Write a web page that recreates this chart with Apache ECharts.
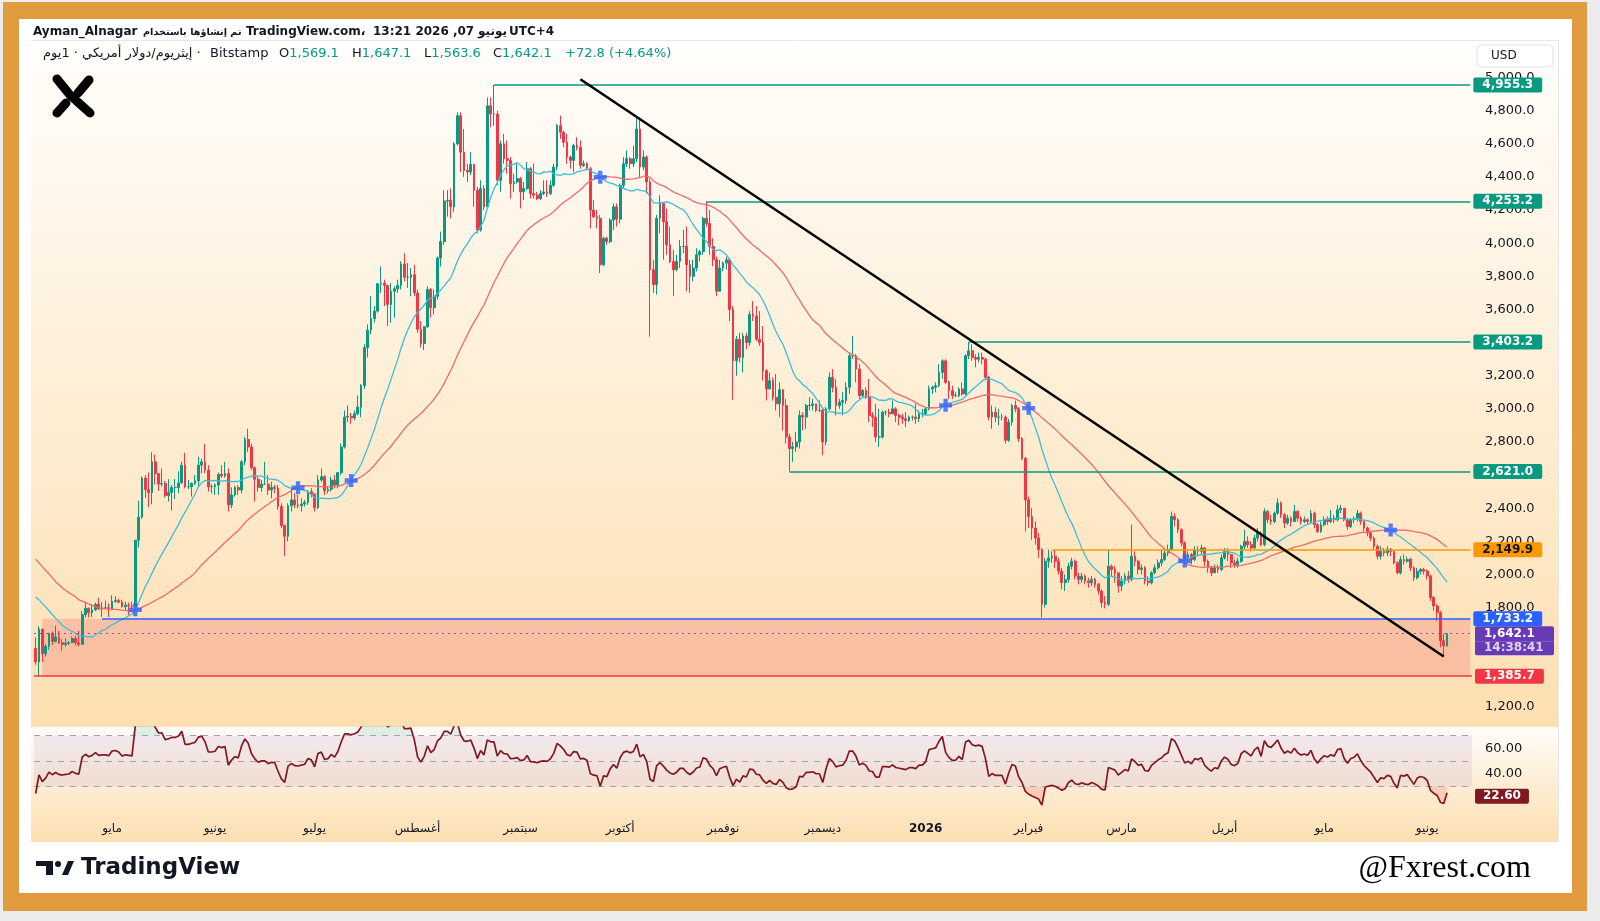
<!DOCTYPE html>
<html lang="ar">
<head>
  <meta charset="utf-8">
  <title>ETH/USD 1D | Bitstamp</title>
  <script type="text/javascript" src="https://cdn.jsdelivr.net/npm/echarts@6/dist/echarts.min.js"></script>
  <style type="text/css">
    * { margin: 0; padding: 0; }
    html, body, #chart { width: 100%; height: 100%; overflow: hidden; background: #ececec; }
  </style>
</head>
<body>
  <div id="chart"></div>
  <script type="text/javascript">
    // closes before the first visible candle (18 Feb - 7 Apr 2025), only to warm up the MAs and RSI
    var preClose = [
      2670, 2715, 2740, 2660, 2765, 2820, 2510, 2490, 2330, 2310, 2235,
      2215, 2520, 2150, 2170, 2240, 2210, 2140, 2200, 2020, 1865, 1920, 1910, 1865, 1910, 1935, 1885,
      1925, 1930, 2055, 1980, 1965, 1985, 2085, 2080, 2065, 2010, 2005, 1895, 1825, 1805, 1825,
      1905, 1795, 1815, 1815, 1805, 1580, 1553
    ];
    var firstOpen = 1553;

    // daily candles, 8 Apr 2025 -> 7 Jun 2026 (open = previous close)
    var close = [
      // apr 25
      1472, 1670, 1521, 1566, 1645, 1595, 1623, 1588, 1577, 1584, 1588, 1613, 1587, 1578, 1757, 1796, 1769, 1786, 1819, 1793, 1799, 1799, 1793,
      // may
      1838, 1842, 1833, 1805, 1815, 1812, 1809, 2207, 2346, 2582, 2513, 2494, 2680, 2609, 2546, 2550, 2477, 2495, 2525, 2525, 2552, 2660, 2530, 2530, 2550, 2565, 2660, 2680, 2630, 2530, 2530,
      // jun
      2540, 2605, 2595, 2610, 2420, 2480, 2525, 2510, 2680, 2815, 2770, 2645, 2575, 2525, 2545, 2545, 2510, 2525, 2520, 2410, 2295, 2230, 2415, 2450, 2420, 2415, 2425, 2435, 2500, 2485,
      // jul
      2405, 2570, 2590, 2505, 2515, 2570, 2540, 2615, 2770, 2950, 2955, 2945, 2970, 3010, 3140, 3370, 3475, 3545, 3590, 3755, 3760, 3745, 3630, 3710, 3725, 3745, 3875, 3795, 3795, 3810, 3700,
      // aug
      3480, 3395, 3495, 3720, 3610, 3680, 3910, 4010, 4255, 4260, 4220, 4600, 4770, 4550, 4440, 4430, 4475, 4320, 4080, 4330, 4220, 4830, 4780, 4780, 4380, 4600, 4510, 4500, 4360, 4370, 4390,
      // sep
      4310, 4330, 4450, 4300, 4290, 4270, 4300, 4310, 4300, 4350, 4460, 4710, 4670, 4610, 4520, 4500, 4590, 4580, 4470, 4480, 4450, 4200, 4160, 4150, 3870, 4030, 4010, 4140, 4220, 4145,
      // oct
      4350, 4480, 4510, 4480, 4510, 4690, 4460, 4520, 4370, 3840, 3750, 4150, 4240, 4130, 3990, 3890, 3840, 3890, 3980, 3980, 3870, 3800, 3850, 3930, 3950, 4150, 4120, 3980, 3900, 3710, 3850,
      // nov
      3880, 3900, 3600, 3290, 3420, 3310, 3440, 3400, 3570, 3560, 3420, 3400, 3230, 3120, 3170, 3070, 3030, 3115, 3020, 2830, 2760, 2770, 2800, 2960, 2950, 3020, 3020, 3030, 2990, 2990,
      // dec
      2800, 3000, 3190, 3130, 3020, 3040, 3050, 3130, 3320, 3320, 3240, 3080, 3110, 3070, 2960, 2950, 2830, 2830, 2980, 2980, 2970, 3000, 2960, 2950, 2940, 2930, 2950, 2950, 2940, 2970, 2970,
      // jan 26
      3000, 3120, 3130, 3140, 3220, 3290, 3160, 3110, 3080, 3080, 3120, 3090, 3320, 3350, 3310, 3300, 3310, 3300, 3190, 2950, 2980, 2950, 2950, 2950, 2810, 2920, 3020, 3000, 2820, 2700, 2450,
      // feb
      2350, 2280, 2220, 2150, 1820, 2080, 2100, 2110, 2080, 2020, 1950, 1970, 2050, 2080, 1990, 1970, 1990, 1960, 1950, 1970, 1940, 1900, 1830, 1820, 2050, 2030, 2010, 1930,
      // mar
      1960, 1990, 1970, 2110, 2080, 2030, 2040, 1960, 1950, 2010, 2040, 2070, 2090, 2130, 2150, 2350, 2330, 2270, 2190, 2100, 2120, 2090, 2150, 2140, 2160, 2080, 2040, 2010, 2040, 2030, 2100,
      // apr
      2140, 2120, 2070, 2060, 2080, 2170, 2200, 2180, 2160, 2220, 2250, 2180, 2380, 2330, 2320, 2370, 2430, 2360, 2310, 2340, 2320, 2380, 2340, 2320, 2330, 2320, 2370, 2300, 2260, 2300,
      // may
      2330, 2320, 2340, 2330, 2390, 2400, 2330, 2290, 2330, 2340, 2370, 2320, 2280, 2250, 2220, 2170, 2110, 2140, 2130, 2150, 2140, 2070, 2010, 2090, 2080, 2090, 2040, 1980, 2020, 2030, 2020,
      // jun
      1990, 1860, 1810, 1770, 1600, 1569.1, 1642.1
    ];
    var high = [
      1620, 1687, 1670, 1578, 1646, 1655, 1691, 1660, 1610, 1615, 1598, 1626, 1630, 1660, 1780, 1829, 1800, 1820, 1830, 1859, 1833, 1842, 1825,
      1874, 1868, 1853, 1846, 1835, 1830, 1836, 2207, 2445, 2591, 2600, 2616, 2738, 2724, 2613, 2640, 2565, 2575, 2540, 2576, 2622, 2680, 2735, 2570, 2555, 2600, 2710, 2700, 2788, 2660, 2545,
      2550, 2615, 2660, 2680, 2640, 2525, 2535, 2540, 2690, 2830, 2880, 2790, 2650, 2590, 2570, 2680, 2600, 2560, 2540, 2540, 2430, 2300, 2430, 2520, 2490, 2480, 2460, 2450, 2510, 2520,
      2490, 2600, 2640, 2600, 2530, 2590, 2600, 2620, 2790, 2990, 3020, 2975, 2990, 3080, 3150, 3390, 3510, 3680, 3620, 3760, 3860, 3780, 3750, 3760, 3740, 3780, 3890, 3940, 3880, 3850, 3870,
      3720, 3530, 3500, 3740, 3730, 3720, 3920, 4070, 4320, 4320, 4330, 4610, 4790, 4790, 4690, 4480, 4550, 4480, 4340, 4380, 4350, 4880, 4880, 4955, 4800, 4620, 4660, 4620, 4520, 4420, 4480,
      4400, 4370, 4490, 4460, 4480, 4310, 4320, 4380, 4380, 4380, 4480, 4720, 4770, 4680, 4660, 4530, 4600, 4640, 4620, 4500, 4490, 4460, 4260, 4200, 4170, 4040, 4040, 4150, 4240, 4240,
      4360, 4520, 4560, 4520, 4590, 4755, 4750, 4560, 4530, 4390, 3900, 4170, 4290, 4220, 4210, 4100, 3960, 3930, 4020, 4080, 4100, 3900, 3900, 3970, 3960, 4160, 4253, 4200, 4030, 3920, 3900,
      3890, 3920, 3910, 3620, 3440, 3460, 3460, 3460, 3590, 3650, 3620, 3590, 3500, 3240, 3220, 3190, 3210, 3160, 3120, 3060, 2850, 2800, 2860, 2990, 2980, 3030, 3070, 3060, 3030, 3050,
      3000, 3010, 3220, 3240, 3180, 3060, 3100, 3160, 3340, 3440, 3330, 3270, 3120, 3130, 3180, 2980, 3030, 3000, 2990, 2990, 3000, 3050, 3010, 2970, 2970, 2980, 2960, 2960, 3030, 2990, 3000,
      3010, 3140, 3140, 3160, 3270, 3300, 3300, 3170, 3140, 3100, 3130, 3160, 3330, 3403, 3390, 3330, 3340, 3340, 3310, 3200, 3020, 3010, 3000, 2970, 2960, 2940, 3030, 3050, 3010, 2830, 2710,
      2470, 2400, 2320, 2250, 2160, 2100, 2150, 2140, 2150, 2100, 2040, 2000, 2070, 2100, 2090, 2010, 2010, 2000, 1980, 1990, 1980, 1950, 1910, 1870, 2148, 2060, 2050, 2010,
      1990, 2010, 2020, 2300, 2140, 2090, 2060, 2050, 1990, 2020, 2060, 2090, 2150, 2160, 2180, 2380, 2370, 2340, 2280, 2200, 2140, 2130, 2170, 2170, 2180, 2165, 2090, 2050, 2060, 2060, 2120,
      2160, 2160, 2110, 2090, 2100, 2180, 2270, 2230, 2200, 2240, 2280, 2260, 2400, 2390, 2360, 2380, 2460, 2440, 2370, 2360, 2350, 2420, 2390, 2350, 2350, 2340, 2390, 2380, 2310, 2320,
      2350, 2350, 2390, 2360, 2420, 2420, 2400, 2340, 2340, 2350, 2390, 2380, 2330, 2290, 2260, 2230, 2180, 2170, 2160, 2170, 2160, 2140, 2080, 2110, 2120, 2110, 2100, 2050, 2040, 2040, 2040,
      2030, 2000, 1870, 1820, 1780, 1640, 1647.1
    ];
    var low = [
      1454, 1385, 1471, 1505, 1545, 1575, 1590, 1580, 1538, 1564, 1575, 1585, 1570, 1566, 1577, 1740, 1740, 1743, 1781, 1785, 1744, 1790, 1743,
      1790, 1826, 1826, 1800, 1784, 1755, 1792, 1810, 2163, 2337, 2461, 2407, 2424, 2543, 2505, 2532, 2465, 2440, 2386, 2455, 2491, 2550, 2520, 2515, 2470, 2540, 2530, 2610, 2612, 2500, 2490,
      2480, 2480, 2584, 2585, 2380, 2400, 2470, 2480, 2490, 2660, 2740, 2630, 2440, 2500, 2500, 2540, 2480, 2460, 2490, 2390, 2280, 2111, 2200, 2380, 2400, 2400, 2380, 2410, 2420, 2465,
      2380, 2395, 2560, 2480, 2490, 2500, 2520, 2520, 2600, 2760, 2920, 2910, 2930, 2960, 2950, 3120, 3310, 3450, 3520, 3580, 3700, 3620, 3500, 3520, 3550, 3700, 3720, 3770, 3730, 3680, 3680,
      3460, 3370, 3355, 3490, 3550, 3570, 3660, 3860, 3990, 4160, 4150, 4190, 4590, 4430, 4400, 4370, 4410, 4220, 4060, 4070, 4200, 4210, 4700, 4710, 4350, 4310, 4480, 4420, 4270, 4310, 4360,
      4210, 4260, 4320, 4270, 4270, 4260, 4260, 4290, 4280, 4290, 4340, 4440, 4630, 4580, 4480, 4450, 4430, 4560, 4450, 4460, 4440, 4090, 4150, 4090, 3820, 3860, 3990, 4000, 4080, 4100,
      4120, 4330, 4460, 4450, 4460, 4490, 4400, 4440, 4300, 3435, 3700, 3690, 4060, 3900, 3930, 3880, 3680, 3830, 3850, 3940, 3710, 3700, 3770, 3830, 3890, 3930, 4100, 3930, 3860, 3680, 3740,
      3830, 3840, 3530, 3055, 3200, 3280, 3220, 3360, 3380, 3530, 3410, 3380, 3170, 3050, 3120, 3050, 2990, 2950, 2870, 2790, 2621, 2680, 2740, 2760, 2870, 2880, 2990, 2990, 2980, 2980,
      2720, 2780, 2990, 3100, 2960, 3000, 2960, 3030, 3090, 3300, 3160, 3060, 3070, 3060, 2920, 2890, 2800, 2770, 2820, 2960, 2950, 2980, 2920, 2900, 2910, 2890, 2920, 2930, 2910, 2920, 2950,
      2960, 2990, 3090, 3100, 3130, 3180, 3150, 3060, 3060, 3070, 3070, 3080, 3080, 3300, 3290, 3250, 3280, 3270, 3180, 2930, 2880, 2920, 2900, 2930, 2790, 2800, 2900, 2980, 2800, 2690, 2260,
      2280, 2210, 2180, 2100, 1740, 1800, 2040, 2070, 2040, 2000, 1910, 1900, 1950, 2030, 1970, 1940, 1950, 1940, 1920, 1930, 1920, 1880, 1800, 1795, 1810, 1990, 1950, 1890,
      1900, 1940, 1950, 1960, 2050, 2000, 2000, 1940, 1930, 1940, 2000, 2030, 2050, 2080, 2110, 2140, 2290, 2250, 2170, 2070, 2080, 2060, 2080, 2110, 2120, 2050, 2010, 1990, 2010, 2010, 2020,
      2090, 2080, 2040, 2040, 2040, 2070, 2150, 2160, 2140, 2150, 2200, 2170, 2170, 2310, 2300, 2310, 2360, 2340, 2280, 2300, 2290, 2320, 2320, 2300, 2310, 2300, 2310, 2280, 2250, 2250,
      2290, 2300, 2310, 2310, 2320, 2370, 2320, 2270, 2280, 2310, 2320, 2300, 2260, 2230, 2200, 2150, 2090, 2090, 2110, 2110, 2110, 2060, 2000, 2000, 2060, 2070, 2020, 1960, 1970, 2000, 2000,
      1970, 1840, 1780, 1720, 1560, 1505, 1563.6
    ];

    // drawn levels (price, first day of the line)
    var levelPrice = [4955.3, 4253.2, 3403.2, 2621.0, 2149.9, 1733.2];
    var levelFrom = ['2025-08-24', '2025-10-27', '2026-01-14', '2025-11-21', '2026-02-08', '2025-04-28'];
    var zoneFrom = '2025-04-10';
    var zoneTop = 1733.2;
    var zoneBottom = 1385.7;
    var trendStart = ['2025-09-19', 4990];
    var trendEnd = ['2026-06-06', 1505];
    var lastPrice = 1642.1;
    var countdown = '14:38:41';
    var rsiLast = 22.60;

    // 1,400 and 1,600 sit under the price tags in the original, so they are not listed
    var priceTicks = [1200, 1800, 2000, 2200, 2400, 2600, 2800, 3000, 3200, 3400, 3600, 3800, 4000, 4200, 4400, 4600, 4800, 5000];
    var rsiTicks = [40, 60];
    var monthNames = ['يناير', 'فبراير', 'مارس', 'أبريل', 'مايو', 'يونيو', 'يوليو', 'أغسطس', 'سبتمبر', 'أكتوبر', 'نوفمبر', 'ديسمبر'];

    var FONT = 'DejaVu Sans';
    var UP = '#089981', DOWN = '#f23645', INK = '#131722', PURPLE = '#673ab7';

    // one category per day, plus a few empty days on the right like TradingView
    var dates = [];
    var t0 = Date.UTC(2025, 3, 8);
    for (var i = 0; i < close.length + 7; i++) {
      dates.push(new Date(t0 + i * 864e5).toISOString().slice(0, 10));
    }
    var lastCat = dates[dates.length - 1];

    var candles = close.map(function (c, i) {
      var o = i ? close[i - 1] : firstOpen;
      return [o, c, Math.min(low[i], o, c), Math.max(high[i], o, c)];
    });

    // indicators from the closes
    var all = preClose.concat(close);
    var off = preClose.length;
    function sma(n) {
      return close.map(function (_, i) {
        var j = i + off, s = 0;
        for (var k = j - n + 1; k <= j; k++) s += all[k];
        return +(s / n).toFixed(2);
      });
    }
    var ma20 = sma(20), ma50 = sma(50);

    function rsi(n) {
      var g = 0, l = 0, res = [];
      for (var k = 1; k <= n; k++) {
        var d = all[k] - all[k - 1];
        if (d > 0) g += d; else l -= d;
      }
      g /= n; l /= n;
      for (var k = n + 1; k < all.length; k++) {
        var d = all[k] - all[k - 1];
        g = (g * (n - 1) + Math.max(d, 0)) / n;
        l = (l * (n - 1) + Math.max(-d, 0)) / n;
        res[k] = l === 0 ? 100 : 100 - 100 / (1 + g / l);
      }
      return res.slice(off).map(function (v) { return +v.toFixed(2); });
    }
    var rsiVals = rsi(14);

    var crosses = [];
    for (var i = 1; i < close.length; i++) {
      if ((ma20[i] - ma50[i]) * (ma20[i - 1] - ma50[i - 1]) < 0) {
        crosses.push([dates[i], (ma20[i] + ma50[i]) / 2]);
      }
    }

    function fmt1(v) {
      return v.toLocaleString('en-US', { minimumFractionDigits: 1, maximumFractionDigits: 1 });
    }

    function tag(bg, text, fg) {
      return {
        show: true, position: 'end', distance: 3,
        formatter: text, color: fg || '#fff', backgroundColor: bg,
        fontFamily: FONT, fontSize: 12, fontWeight: 'bold', lineHeight: 13,
        padding: [1, 9, 1, 9], borderRadius: 2
      };
    }
    var hidden = { color: 'rgba(0,0,0,0)', width: 0 };

    var levelColors = [UP, UP, UP, UP, '#ff9800', '#2962ff'];
    var markLines = levelPrice.map(function (p, i) {
      return [
        { coord: [levelFrom[i], p], lineStyle: { color: levelColors[i], width: 1.5, type: 'solid' },
          label: tag(levelColors[i], fmt1(p), i === 4 ? INK : '#fff') },
        { coord: [lastCat, p] }
      ];
    });
    markLines.push({ yAxis: zoneBottom, lineStyle: { color: DOWN, width: 1.5, type: 'solid' }, label: tag(DOWN, fmt1(zoneBottom)) });
    markLines.push({ yAxis: lastPrice, lineStyle: { color: '#7e57c2', width: 1, type: [2, 4] },
      label: Object.assign(tag(PURPLE, fmt1(lastPrice)), { width: 62, padding: [2, 8, 0, 9], borderRadius: [2, 2, 0, 0] }) });
    // countdown box sits right under the last price tag (about 14 px lower)
    markLines.push({ yAxis: lastPrice - 88, lineStyle: hidden,
      label: Object.assign(tag(PURPLE, countdown, '#ddd3f2'), { width: 62, padding: [0, 8, 1, 9], borderRadius: [0, 0, 2, 2] }) });
    markLines.push([
      { coord: trendStart, lineStyle: { color: '#000', width: 2.5, type: 'solid' }, label: { show: false } },
      { coord: trendEnd }
    ]);

    var blank = dates.map(function () { return '-'; });
    var plus = 'path://M4,0H8V4H12V8H8V12H4V8H0V4H4Z';

    // shrink a font until the text fits the width it has in the original header
    var measureCtx = document.createElement('canvas').getContext('2d');
    function fitFont(text, weight, size, maxW) {
      measureCtx.font = weight + ' ' + size + 'px "DejaVu Sans"';
      var w = measureCtx.measureText(text).width;
      var s = w > maxW ? Math.floor(size * maxW / w * 10) / 10 : size;
      return weight + ' ' + s + 'px "DejaVu Sans"';
    }
    function txt(x, y, text, font, fill) {
      return { type: 'text', x: x, y: y, z: 50,
        style: { text: text, font: font, fill: fill || INK, textVerticalAlign: 'middle' } };
    }
    function richTxt(x, y, text, rich) {
      return { type: 'text', x: x, y: y, z: 50,
        style: { text: text, rich: rich, font: '13px "DejaVu Sans"', fill: INK, textVerticalAlign: 'middle' } };
    }
    var H1 = 'bold 12px "DejaVu Sans"';
    var legendRich = {
      n: { fontFamily: FONT, fontSize: 13, fill: INK },
      v: { fontFamily: FONT, fontSize: 13, fill: UP }
    };
    var arHead = 'تم إنشاؤها باستخدام';
    var arLegend = 'إيثريوم/دولار أمريكي · 1يوم ·';

    var option = {
      animation: false,
      textStyle: { fontFamily: FONT },
      grid: [
        { left: 34, right: 128, top: 40, bottom: 194 },
        { left: 34, right: 128, top: 727, bottom: 108 }
      ],
      xAxis: [
        { type: 'category', gridIndex: 0, data: dates, show: false },
        {
          type: 'category', gridIndex: 1, data: dates,
          axisLine: { show: false }, axisTick: { show: false }, splitLine: { show: false },
          axisLabel: {
            color: INK, fontSize: 12, margin: 10, fontFamily: FONT,
            interval: function (idx, v) { return v.slice(8) === '01'; },
            formatter: function (v) {
              var m = +v.slice(5, 7);
              return m === 1 ? '{b|' + v.slice(0, 4) + '}' : monthNames[m - 1];
            },
            rich: { b: { fontWeight: 'bold', fontSize: 12, color: INK, fontFamily: FONT } }
          }
        }
      ],
      yAxis: [
        {
          type: 'value', gridIndex: 0, position: 'right', min: 1079, max: 5227,
          splitLine: { show: false }, axisLine: { show: false }, axisTick: { show: false },
          axisLabel: { customValues: priceTicks, formatter: fmt1, color: INK, fontSize: 13, margin: 13, align: 'left', fontFamily: FONT }
        },
        {
          type: 'value', gridIndex: 1, position: 'right', min: 9.4, max: 76.8,
          splitLine: { show: false }, axisLine: { show: false }, axisTick: { show: false },
          axisLabel: { customValues: rsiTicks, formatter: function (v) { return v.toFixed(2); }, color: INK, fontSize: 13, margin: 13, align: 'left', fontFamily: FONT }
        }
      ],
      series: [
        {
          name: 'zone', type: 'line', data: blank, z: 1, silent: true,
          markArea: { silent: true, itemStyle: { color: 'rgba(242,54,69,0.2)' },
            data: [[{ coord: [zoneFrom, zoneTop] }, { coord: [lastCat, zoneBottom] }]] }
        },
        {
          name: 'ETHUSD', type: 'candlestick', data: candles, z: 2, barWidth: '68%',
          itemStyle: { color: UP, color0: DOWN, borderColor: UP, borderColor0: DOWN, borderWidth: 1 },
          markLine: { silent: true, symbol: ['none', 'none'], precision: 1, data: markLines }
        },
        { name: 'MA20', type: 'line', data: ma20, showSymbol: false, z: 3, silent: true,
          lineStyle: { color: '#3fbdd8', width: 1.3 } },
        { name: 'MA50', type: 'line', data: ma50, showSymbol: false, z: 3, silent: true,
          lineStyle: { color: '#f06a6a', width: 1.3 } },
        { name: 'cross', type: 'scatter', data: crosses, symbol: plus, symbolSize: 13, z: 4,
          itemStyle: { color: '#2962ff' } },

        // RSI pane
        { name: 'obBase', type: 'line', xAxisIndex: 1, yAxisIndex: 1, stack: 'ob', showSymbol: false, silent: true,
          data: rsiVals.map(function () { return 70; }), lineStyle: { opacity: 0 } },
        { name: 'obFill', type: 'line', xAxisIndex: 1, yAxisIndex: 1, stack: 'ob', showSymbol: false, silent: true,
          data: rsiVals.map(function (v) { return Math.max(v - 70, 0); }), lineStyle: { opacity: 0 },
          areaStyle: { color: 'rgba(8,153,129,0.18)' } },
        { name: 'osBase', type: 'line', xAxisIndex: 1, yAxisIndex: 1, stack: 'os', showSymbol: false, silent: true,
          data: rsiVals.map(function (v) { return Math.min(v, 30); }), lineStyle: { opacity: 0 } },
        { name: 'osFill', type: 'line', xAxisIndex: 1, yAxisIndex: 1, stack: 'os', showSymbol: false, silent: true,
          data: rsiVals.map(function (v) { return 30 - Math.min(v, 30); }), lineStyle: { opacity: 0 },
          areaStyle: { color: 'rgba(242,54,69,0.25)' } },
        {
          name: 'RSI', type: 'line', xAxisIndex: 1, yAxisIndex: 1, data: rsiVals, showSymbol: false, z: 5,
          lineStyle: { color: '#801922', width: 1.7 },
          markArea: { silent: true, itemStyle: { color: 'rgba(126,87,194,0.1)' }, data: [[{ yAxis: 70 }, { yAxis: 30 }]] },
          markLine: {
            silent: true, symbol: ['none', 'none'],
            data: [
              { yAxis: 70, lineStyle: { color: '#a0a3ab', type: [6, 6], width: 1 }, label: { show: false } },
              { yAxis: 50, lineStyle: { color: '#a0a3ab', type: [6, 6], width: 1 }, label: { show: false } },
              { yAxis: 30, lineStyle: { color: '#a0a3ab', type: [6, 6], width: 1 }, label: { show: false } },
              { yAxis: rsiLast, lineStyle: hidden, label: Object.assign(tag('#801922', rsiLast.toFixed(2)), { padding: [1, 8, 1, 8] }) }
            ]
          }
        }
      ],
      graphic: [
        // frame
        { type: 'rect', z: -30, shape: { x: 3, y: 2, width: 1584, height: 909 }, style: { fill: '#e09b3e' } },
        { type: 'rect', z: -29, shape: { x: 19, y: 19, width: 1553, height: 874 }, style: { fill: '#ffffff' } },
        // panes
        { type: 'rect', z: -28, shape: { x: 31, y: 40, width: 1527, height: 687 },
          style: { fill: new echarts.graphic.LinearGradient(0, 0, 0, 1, [{ offset: 0, color: '#fffefc' }, { offset: 1, color: '#fddfb1' }]) } },
        { type: 'rect', z: -28, shape: { x: 31, y: 727, width: 1527, height: 115 },
          style: { fill: new echarts.graphic.LinearGradient(0, 0, 0, 1, [{ offset: 0, color: '#fffcf8' }, { offset: 1, color: '#fddfb1' }]) } },
        { type: 'line', z: -27, shape: { x1: 31, y1: 40.5, x2: 1558, y2: 40.5 }, style: { stroke: '#e6e6e6', lineWidth: 1 } },
        { type: 'line', z: -27, shape: { x1: 1558.5, y1: 40, x2: 1558.5, y2: 842 }, style: { stroke: '#e6e6e6', lineWidth: 1 } },
        // header, pieces placed where they sit in the original
        txt(33, 32, 'Ayman_Alnagar', H1),
        txt(143, 32, arHead, fitFont(arHead, 'bold', 12, 99)),
        txt(246, 32, 'TradingView.com،', H1),
        txt(373, 32, '13:21 2026 ,07', H1),
        txt(478, 32, 'يونيو', H1),
        txt(509, 32, 'UTC+4', H1),
        txt(43, 54, arLegend, fitFont(arLegend, 'normal', 13, 162)),
        txt(210, 54, 'Bitstamp', '13px "DejaVu Sans"'),
        richTxt(279, 54, '{n|O}{v|1,569.1}', legendRich),
        richTxt(352, 54, '{n|H}{v|1,647.1}', legendRich),
        richTxt(424, 54, '{n|L}{v|1,563.6}', legendRich),
        richTxt(493, 54, '{n|C}{v|1,642.1}', legendRich),
        richTxt(565, 54, '{v|+72.8 (+4.64%)}', legendRich),
        // USD button
        { type: 'rect', z: 50, shape: { x: 1477, y: 45, width: 76, height: 22, r: 4 }, style: { fill: '#fff', stroke: '#e0e3eb', lineWidth: 1 } },
        txt(1491, 56, 'USD', '12px "DejaVu Sans"'),
        // X logo
        { type: 'polyline', z: 50, shape: { points: [[57, 79], [70, 95], [90, 113]] }, style: { stroke: '#000', lineWidth: 9, lineCap: 'round', lineJoin: 'round', fill: null } },
        { type: 'polyline', z: 50, shape: { points: [[89, 80], [78, 93]] }, style: { stroke: '#000', lineWidth: 9, lineCap: 'round', fill: null } },
        { type: 'polyline', z: 50, shape: { points: [[57, 113], [66, 103]] }, style: { stroke: '#000', lineWidth: 9, lineCap: 'round', fill: null } },
        // TradingView logo
        { type: 'rect', z: 50, shape: { x: 36, y: 861, width: 17, height: 5 }, style: { fill: INK } },
        { type: 'rect', z: 50, shape: { x: 46, y: 861, width: 7, height: 14 }, style: { fill: INK } },
        { type: 'circle', z: 50, shape: { cx: 58, cy: 864, r: 3 }, style: { fill: INK } },
        { type: 'polygon', z: 50, shape: { points: [[62, 875], [68, 861], [74, 861], [68, 875]] }, style: { fill: INK } },
        txt(81, 868, 'TradingView', 'bold 23px "DejaVu Sans"'),
        { type: 'text', z: 50, x: 1531, y: 869, style: { text: '@Fxrest.com', font: '32px "Liberation Serif"', fill: '#000', textAlign: 'right', textVerticalAlign: 'middle' } }
      ]
    };

    var chart = echarts.init(document.getElementById('chart'));
    chart.setOption(option);
  </script>
</body>
</html>
